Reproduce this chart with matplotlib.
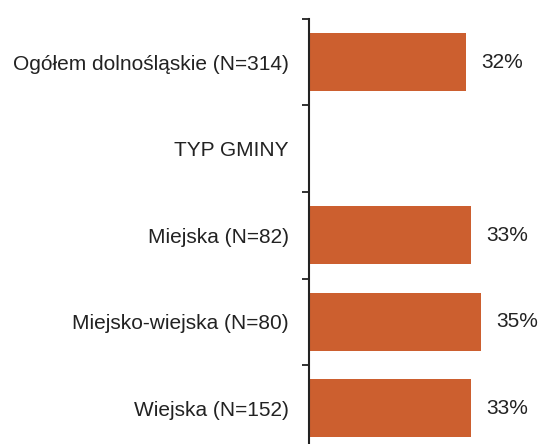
import matplotlib
matplotlib.use("Agg")
import matplotlib.pyplot as plt
import numpy as np

plt.rcParams['font.family'] = ['Liberation Sans', 'DejaVu Sans']

categories = ["Ogółem dolnośląskie (N=314)", "TYP GMINY", "Miejska (N=82)",
              "Miejsko-wiejska (N=80)", "Wiejska (N=152)"]
values = [32, None, 33, 35, 33]
value_labels = ["32%", "", "33%", "35%", "33%"]

W, H, DPI = 541, 444, 100
fig = plt.figure(figsize=(W / DPI, H / DPI), dpi=DPI)
left = 309 / W
top = 1 - 19 / H
bottom = 1 - 451.5 / H
ax = fig.add_axes([left, bottom, 1 - left, top - bottom])

n = len(categories)
pos = np.arange(n)
vals = np.array([np.nan if v is None else v for v in values], dtype=float)
ax.barh(pos, np.nan_to_num(vals), height=0.67, color='#CC5F2F', zorder=2)
for p, v, lab in zip(pos, vals, value_labels):
    if not np.isnan(v):
        ax.annotate(lab, (v, p), xytext=(11, 0), textcoords='offset points',
                    va='center', ha='left', fontsize=15, color='#222222')

ax.set_ylim(n - 0.5, -0.5)
ax.set_xlim(0, (W - 309) / 4.92)
ax.set_yticks(pos)
ax.set_yticklabels(categories, fontsize=15, color='#222222')
ax.set_yticks(np.arange(-0.5, n, 1.0), minor=True)
ax.tick_params(axis='y', which='major', length=0, pad=14.4)
ax.tick_params(axis='y', which='minor', length=5, width=1.3, color='#222222')
ax.set_xticks([])
for s in ['top', 'right', 'bottom']:
    ax.spines[s].set_visible(False)
ax.spines['left'].set_linewidth(1.5)
ax.spines['left'].set_color('#222222')

fig.savefig("out.png", dpi=DPI)
